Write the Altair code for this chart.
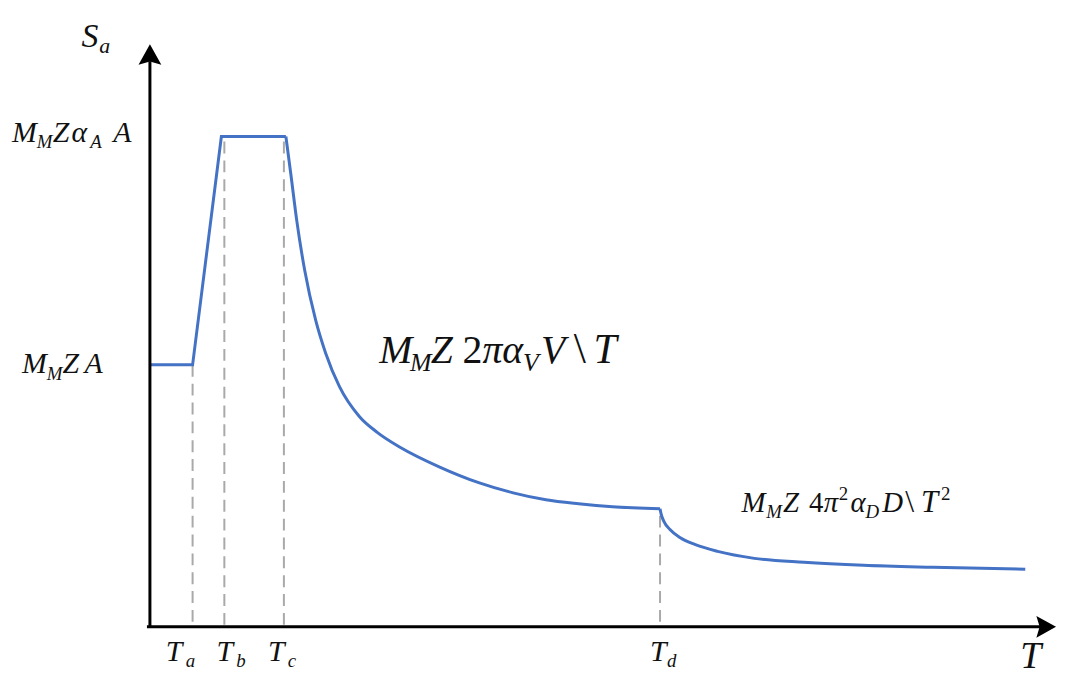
import altair as alt
import pandas as pd

# ---- data (chart units: T horizontally, Sa vertically) ----
RAMP_T = [0.00, 0.43, 0.72, 1.37]
RAMP_S = [2.64, 2.64, 4.94, 4.94]

VEL_T = [1.37, 1.42, 1.48, 1.56, 1.67, 1.77, 1.91, 2.11, 2.29, 2.52, 2.92,
         3.32, 3.66, 3.99, 4.32, 4.66, 5.14]
VEL_S = [4.94, 4.56, 4.09, 3.59, 3.09, 2.76, 2.42, 2.12, 1.96, 1.81, 1.61,
         1.45, 1.35, 1.28, 1.24, 1.21, 1.19]

DISP_T = [5.14, 5.15, 5.18, 5.24, 5.34, 5.49, 5.72, 6.09, 6.59, 7.19, 7.89, 8.82]
DISP_S = [1.19, 1.14, 1.06, 0.98, 0.90, 0.83, 0.76, 0.69, 0.65, 0.62, 0.60, 0.58]

# corner periods and the height their dashed guides reach
KEY_T = [0.43, 0.75, 1.35, 5.14]
KEY_TOP = [2.64, 4.89, 4.89, 1.12]

# axis extent
X_MAX = 9.13
Y_MAX = 5.87

# ---- annotation pieces (text, x, y, size, italic) ----
ANN_TEXT = ["M", "M", "Z", "α", "A", "A",
            "M", "M", "Z", "A",
            "M", "M", "Z", "2", "π", "α", "V", "V", "\\", "T",
            "M", "M", "Z", "4", "π", "2", "α", "D", "D", "\\", "T", "2",
            "T", "a", "T", "b", "T", "c", "T", "d",
            "T", "S", "a"]
ANN_X = [-1.39, -1.14, -0.98, -0.79, -0.60, -0.37,
         -1.29, -1.04, -0.88, -0.66,
         2.31, 2.62, 2.83, 3.15, 3.35, 3.55, 3.76, 3.94, 4.27, 4.47,
         5.96, 6.21, 6.38, 6.64, 6.79, 6.94, 7.06, 7.21, 7.38, 7.61, 7.77, 7.97,
         0.16, 0.36, 0.67, 0.87, 1.19, 1.39, 5.04, 5.21,
         8.77, -0.69, -0.51]
ANN_Y = [4.89, 4.82, 4.89, 4.89, 4.82, 4.89,
         2.56, 2.49, 2.56, 2.56,
         2.66, 2.58, 2.66, 2.66, 2.66, 2.66, 2.58, 2.66, 2.66, 2.66,
         1.16, 1.10, 1.16, 1.16, 1.16, 1.28, 1.16, 1.10, 1.16, 1.16, 1.16, 1.28,
         -0.34, -0.40, -0.34, -0.40, -0.34, -0.40, -0.34, -0.40,
         -0.41, 5.84, 5.78]
ANN_SIZE = [30, 19, 30, 30, 19, 30,
            30, 19, 30, 30,
            40, 26, 40, 40, 40, 40, 26, 40, 44, 42,
            29, 19, 29, 29, 29, 19, 29, 19, 29, 32, 31, 19,
            30, 19, 30, 19, 30, 19, 30, 19,
            38, 34, 22]
ANN_ITALIC = [1, 1, 1, 1, 1, 1,
              1, 1, 1, 1,
              1, 1, 1, 0, 1, 1, 1, 1, 0, 1,
              1, 1, 1, 0, 1, 0, 1, 1, 1, 0, 1, 0,
              1, 1, 1, 1, 1, 1, 1, 1,
              1, 1, 1]

FONT = "Liberation Serif"
BLUE = "#4472C4"

xs = alt.Scale(domain=[0, X_MAX], nice=False, zero=False)
ys = alt.Scale(domain=[0, Y_MAX], nice=False, zero=False)

ramp_df = pd.DataFrame({"t": RAMP_T, "s": RAMP_S})
curve_df = pd.DataFrame({
    "t": VEL_T + DISP_T,
    "s": VEL_S + DISP_S,
    "seg": ["v"] * len(VEL_T) + ["d"] * len(DISP_T),
})
key_df = pd.DataFrame({"t": KEY_T, "top": KEY_TOP, "bottom": [0] * len(KEY_T)})
ann_df = pd.DataFrame({"text": ANN_TEXT, "x": ANN_X, "y": ANN_Y,
                       "size": ANN_SIZE, "italic": ANN_ITALIC})

dashes = alt.Chart(key_df).mark_rule(
    color="#a9a9a9", strokeWidth=2, strokeDash=[12, 7]
).encode(
    x=alt.X("t:Q", scale=xs, axis=None),
    y=alt.Y("top:Q", scale=ys, axis=None),
    y2="bottom:Q",
)

ramp = alt.Chart(ramp_df).mark_line(color=BLUE, strokeWidth=3).encode(
    x=alt.X("t:Q", scale=xs, axis=None),
    y=alt.Y("s:Q", scale=ys, axis=None),
    order="t:Q",
)

curve = alt.Chart(curve_df).mark_line(
    color=BLUE, strokeWidth=3, interpolate="monotone"
).encode(
    x=alt.X("t:Q", scale=xs, axis=None),
    y=alt.Y("s:Q", scale=ys, axis=None),
    detail="seg:N",
    order="t:Q",
)

axes_df = pd.DataFrame({"x": [0.0, -0.03], "x2": [0.0, 9.0],
                        "y": [0.0, 0.0], "y2": [5.70, 0.0]})
axes = alt.Chart(axes_df).mark_rule(
    color="black", strokeWidth=3, strokeCap="butt"
).encode(
    x=alt.X("x:Q", scale=xs, axis=None),
    x2="x2:Q",
    y=alt.Y("y:Q", scale=ys, axis=None),
    y2="y2:Q",
)

up_arrow = alt.Chart(pd.DataFrame({"x": [0.0], "y": [Y_MAX]})).mark_point(
    shape="M0,0 L1,1.8 L0,1.5 L-1,1.8 Z", size=529, filled=True,
    color="black", opacity=1, strokeWidth=0
).encode(
    x=alt.X("x:Q", scale=xs, axis=None),
    y=alt.Y("y:Q", scale=ys, axis=None),
)

right_arrow = alt.Chart(pd.DataFrame({"x": [X_MAX], "y": [0.0]})).mark_point(
    shape="M0,0 L-1.8,-1 L-1.5,0 L-1.8,1 Z", size=484, filled=True,
    color="black", opacity=1, strokeWidth=0
).encode(
    x=alt.X("x:Q", scale=xs, axis=None),
    y=alt.Y("y:Q", scale=ys, axis=None),
)

def text_layer(italic):
    return alt.Chart(ann_df).transform_filter(
        alt.datum.italic == italic
    ).mark_text(
        align="left", baseline="alphabetic", font=FONT,
        fontStyle="italic" if italic else "normal", color="#111111"
    ).encode(
        x=alt.X("x:Q", scale=xs, axis=None),
        y=alt.Y("y:Q", scale=ys, axis=None),
        text="text:N",
        size=alt.Size("size:Q", scale=None, legend=None),
    )

chart = alt.layer(
    dashes, ramp, curve, axes, up_arrow, right_arrow,
    text_layer(1), text_layer(0)
).properties(
    width=913, height=587,
    autosize=alt.AutoSizeParams(type="none"),
    padding={"left": 143, "top": 34, "right": 3, "bottom": 46},
).configure_view(stroke=None)

chart.save("out.html", embed_options={"renderer": "svg", "actions": False})
